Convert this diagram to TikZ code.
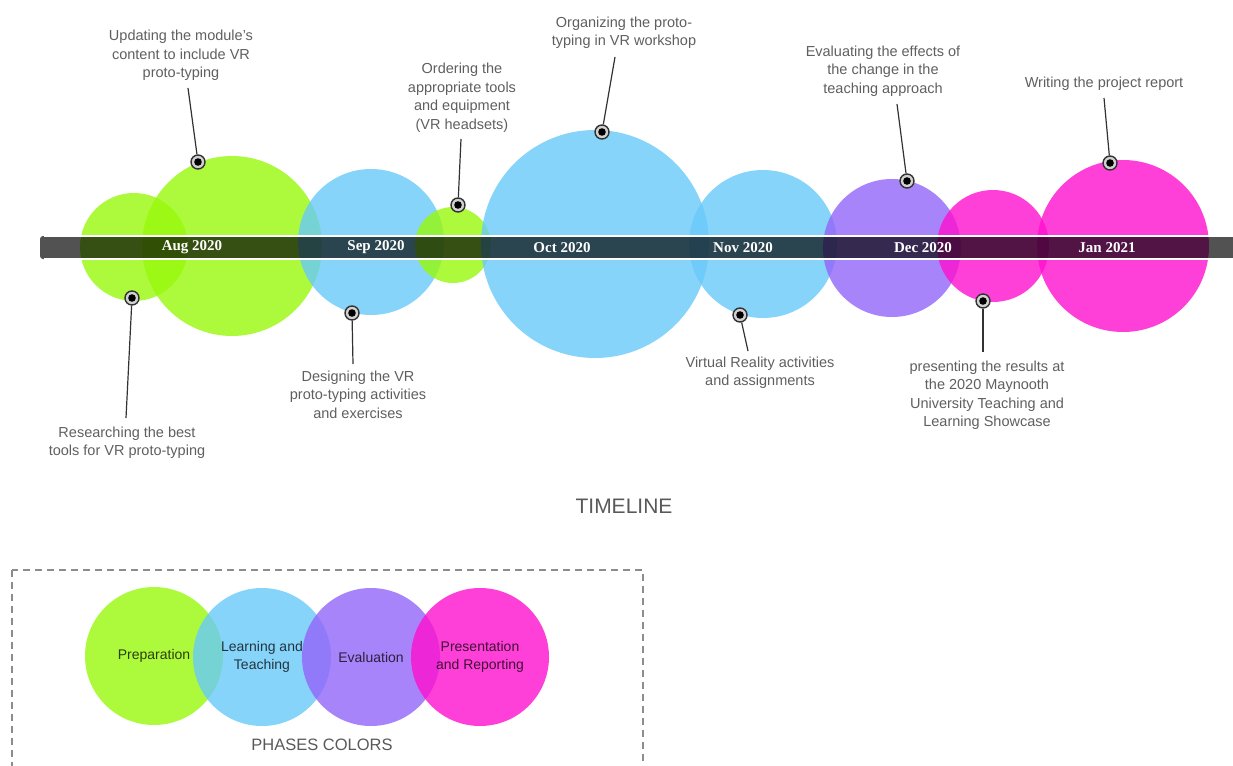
\documentclass[tikz,border=0pt]{standalone}
\usepackage{fontspec}
\setmainfont{Liberation Sans}
\newfontfamily\serifb{Liberation Serif}
\definecolor{cgreen}{RGB}{152,249,11}
\definecolor{cblue}{RGB}{105,201,249}
\definecolor{cpurple}{RGB}{146,101,249}
\definecolor{cpink}{RGB}{255,16,206}
\definecolor{lblgray}{RGB}{95,95,95}
\definecolor{leadgray}{RGB}{50,50,50}
\begin{document}
\begin{tikzpicture}[x=1pt,y=-1pt,
  bubble/.style={fill opacity=0.8},
  datelbl/.style={font=\serifb\bfseries\fontsize{15}{16}\selectfont, text=white, inner sep=0pt},
  marker/.style={circle, minimum size=14pt, inner sep=0pt, draw=black!80, line width=1.4pt, fill=white!82!black,
     path picture={\fill[black] (path picture bounding box.center) circle (3.8pt);}},
  leader/.style={draw=leadgray, line width=1.2pt},
  lbl/.style={align=center, inner sep=0pt, text=lblgray, font=\fontsize{14.5}{18.5}\selectfont},
  phase/.style={circle, minimum size=138pt, inner sep=0pt, fill opacity=0.8, text opacity=0.75, text=black, align=center, font=\fontsize{14}{18}\selectfont},
  legendbox/.style={draw=black!45, line width=1.3pt, dash pattern=on 7pt off 5pt}
]
\useasboundingbox (0,0) rectangle (1233,765);

% timeline bubbles
\fill[cgreen, bubble] (134,247) circle (54);
\fill[cgreen, bubble] (232,246) circle (90);
\fill[cblue, bubble] (371,242) circle (73);
\fill[cgreen, bubble] (453,245) circle (38);
\fill[cblue, bubble] (595,244) circle (114);
\fill[cblue, bubble] (763,244) circle (74);
\fill[cpurple, bubble] (892,248) circle (69);
\fill[cpink, bubble] (993,246) circle (56);
\fill[cpink, bubble] (1123,246) circle (86);

% bar
\fill[black, fill opacity=0.68, rounded corners=3pt] (40,236) rectangle (1245,259);
\draw[white, line width=1.5pt] (44,236) -- (1233,236);
\draw[white, line width=1.5pt] (44,259) -- (1233,259);

\node[datelbl] (aug) at (192,247.5) {Aug 2020};
\node[datelbl] (sep) at (376,247.5) {Sep 2020};
\node[datelbl] (oct) at (562,247.5) {Oct 2020};
\node[datelbl] (nov) at (743,247.5) {Nov 2020};
\node[datelbl] (dec) at (923,247.5) {Dec 2020};
\node[datelbl] (jan) at (1107,247.5) {Jan 2021};

% markers
\node[marker] (m1) at (132,298) {};
\node[marker] (m2) at (198,162) {};
\node[marker] (m3) at (352,313) {};
\node[marker] (m4) at (458,205) {};
\node[marker] (m5) at (602,132) {};
\node[marker] (m6) at (740,315) {};
\node[marker] (m7) at (907,181) {};
\node[marker] (m8) at (983,301) {};
\node[marker] (m9) at (1110,163) {};

% leader ends
\coordinate (e1) at (126,418);
\coordinate (e2) at (188,88);
\coordinate (e3) at (353,364);
\coordinate (e4) at (461,139);
\coordinate (e5) at (615,57);
\coordinate (e6) at (748,351);
\coordinate (e7) at (897,104);
\coordinate (e8) at (983,352);
\coordinate (e9) at (1104,98);

\draw[leader] (m1) -- (e1);
\draw[leader] (m2) -- (e2);
\draw[leader] (m3) -- (e3);
\draw[leader] (m4) -- (e4);
\draw[leader] (m5) -- (e5);
\draw[leader] (m6) -- (e6);
\draw[leader] (m7) -- (e7);
\draw[leader] (m8) -- (e8);
\draw[leader] (m9) -- (e9);

% labels
\node[lbl] (t1) at (127,442.5) {Researching the best\\tools for VR proto-typing};
\node[lbl] (t2) at (181,55.5) {Updating the module's\\content to include VR\\proto-typing};
\node[lbl] (t3) at (358,394.5) {Designing the VR\\proto-typing activities\\and exercises};
\node[lbl] (t4) at (462,97.5) {Ordering the\\appropriate tools\\and equipment\\(VR headsets)};
\node[lbl] (t5) at (624,33) {Organizing the proto-\\typing in VR workshop};
\node[lbl] (t6) at (760,372.5) {Virtual Reality activities\\and assignments};
\node[lbl] (t7) at (883,71) {Evaluating the effects of\\the change in the\\teaching approach};
\node[lbl] (t8) at (987,395) {presenting the results at\\the 2020 Maynooth\\University Teaching and\\Learning Showcase};
\node[lbl] (t9) at (1104,84) {Writing the project report};

\node[text=black!65, inner sep=0pt, font=\fontsize{21}{25}\selectfont] (title) at (624,506) {TIMELINE};

% legend
\draw[legendbox] (12,570) rectangle (643,800);
\node[phase, fill=cgreen] (p1) at (154,656) {Preparation};
\node[phase, fill=cblue] (p2) at (262,657) {Learning and\\Teaching};
\node[phase, fill=cpurple] (p3) at (371,657) {Evaluation};
\node[phase, fill=cpink] (p4) at (480,657) {Presentation\\and Reporting};
\node[text=black!65, inner sep=0pt, font=\fontsize{16.5}{20}\selectfont] (ptitle) at (322,745) {PHASES COLORS};
\end{tikzpicture}
\end{document}
